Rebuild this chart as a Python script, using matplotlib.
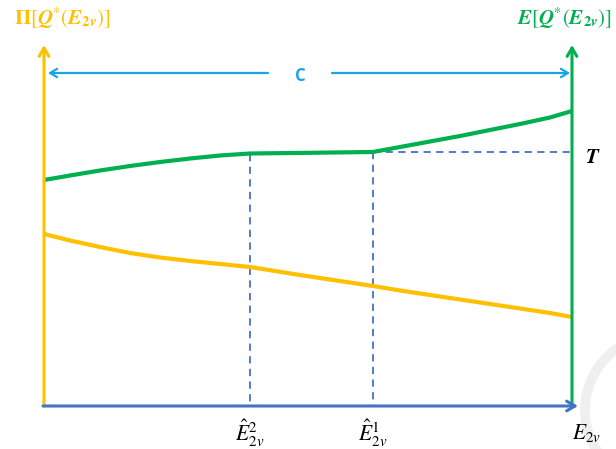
import matplotlib
matplotlib.use("Agg")
import matplotlib.pyplot as plt
from matplotlib.patches import Arc

plt.rcParams["mathtext.fontset"] = "stix"

# axis frame (pixel-like drawing units, y grows downward)
x0, x_end = 44, 572
y_base, y_top = 406, 45

# curves
green_x = [44, 70, 100, 130, 160, 190, 220, 250, 310, 373,
           400, 430, 460, 490, 520, 550, 572]
green_y = [180, 175.5, 170.5, 166, 162, 158.5, 155.5, 153.5, 152.8, 152,
           147, 141.5, 136, 130, 124, 117.5, 111]
yellow_x = [44, 70, 100, 130, 160, 190, 220, 250, 300, 373,
            400, 430, 460, 490, 520, 550, 572]
yellow_y = [234, 240.5, 247, 253, 257.5, 261, 264, 267, 275, 286,
            290.5, 295, 299.5, 304, 308.5, 313, 317]

# threshold markers
e2_x, e1_x = 250, 373
t_level = 152

YELLOW = "#FFC000"
GREEN = "#00B050"
BLUE = "#4472C4"
SKY = "#1AA3E8"

fig = plt.figure(figsize=(6.16, 4.49), dpi=100)
ax = fig.add_axes([0, 0, 1, 1])
ax.set_xlim(0, 616)
ax.set_ylim(449, 0)
ax.axis("off")

# faint watermark arc
ax.add_patch(Arc((660, 410), 150, 150, theta1=105, theta2=245,
                 color="#EFEFEF", lw=7, zorder=0))

# dashed guides
ax.plot([e2_x, e2_x], [green_y[7], y_base], ls=(0, (4, 3)), color=BLUE, lw=1.3)
ax.plot([e1_x, e1_x], [t_level, y_base], ls=(0, (4, 3)), color=BLUE, lw=1.3)
ax.plot([e1_x, x_end], [t_level, t_level], ls=(0, (4, 3)), color=BLUE, lw=1.3)

# curves
ax.plot(green_x, green_y, color=GREEN, lw=3.0, solid_capstyle="butt",
        solid_joinstyle="round", zorder=3)
ax.plot(yellow_x, yellow_y, color=YELLOW, lw=3.0, solid_capstyle="butt",
        solid_joinstyle="round", zorder=3)

# axes with open arrowheads
def arrow(p_from, p_to, color, lw, hl=0.6, hw=0.35):
    ax.annotate("", xy=p_to, xytext=p_from,
                arrowprops=dict(arrowstyle=f"->,head_length={hl},head_width={hw}",
                                color=color, lw=lw, shrinkA=0, shrinkB=0),
                zorder=4)

arrow((x0, y_base), (x0, y_top), YELLOW, 2.2)
arrow((x_end, y_base + 1), (x_end, y_top), GREEN, 2.2)
arrow((x0 - 1, y_base), (x_end + 6, y_base), BLUE, 2.2)

# span C
arrow((268, 73), (48, 73), SKY, 1.6, 0.5, 0.3)
arrow((332, 73), (570, 73), SKY, 1.6, 0.5, 0.3)
ax.text(300, 76, "C", color=SKY, fontsize=12, fontfamily="Open Sans",
        fontweight="bold", ha="center", va="center")

# labels
ax.text(14, 18, r"$\mathbf{\Pi}[\mathbfit{Q}^{*}(\mathbfit{E}_{\mathbf{2}\mathbfit{v}})]$",
        color=YELLOW, fontsize=15, ha="left", va="center")
ax.text(612, 18, r"$\mathbfit{E}[\mathbfit{Q}^{*}(\mathbfit{E}_{\mathbf{2}\mathbfit{v}})]$",
        color=GREEN, fontsize=15, ha="right", va="center")
ax.text(593, 157, r"$\mathbfit{T}$", color="black", fontsize=15,
        ha="center", va="center")

ax.text(e2_x, 433, r"$\hat{E}_{2v}^{2}$", fontsize=15.5, ha="center", va="center")
ax.text(e1_x, 433, r"$\hat{E}_{2v}^{1}$", fontsize=15.5, ha="center", va="center")
ax.text(587, 433, r"$E_{2v}$", fontsize=15.5, ha="center", va="center")

fig.savefig("out.png", dpi=100)
